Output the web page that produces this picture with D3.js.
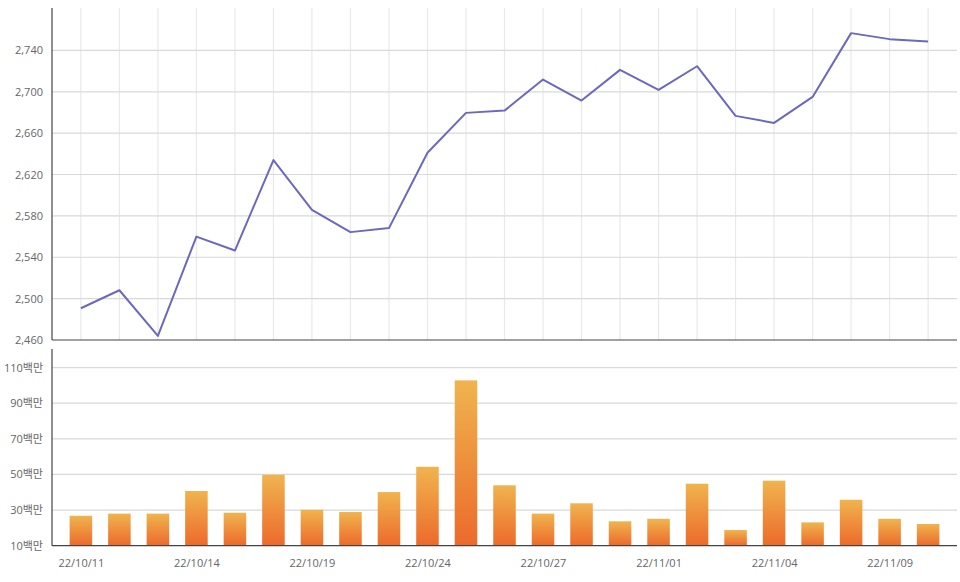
<!DOCTYPE html>
<html><head><meta charset="utf-8">
<script src="https://cdn.jsdelivr.net/npm/d3@7/dist/d3.min.js"></script>
<style>
html,body{margin:0;padding:0;background:#fff;}
text{font-family:"Open Sans","Noto Sans CJK KR",sans-serif;}
</style></head>
<body><svg id="c" width="960" height="582"></svg>
<script>
const dates = ["22/10/11","22/10/12","22/10/13","22/10/14","22/10/17","22/10/18","22/10/19","22/10/20","22/10/21","22/10/24","22/10/25","22/10/26","22/10/27","22/10/28","22/10/31","22/11/01","22/11/02","22/11/03","22/11/04","22/11/07","22/11/08","22/11/09","22/11/10"];
const prices = [2490.7,2508.1,2463.9,2560.0,2546.5,2634.0,2585.9,2564.3,2568.2,2641.1,2679.6,2681.8,2711.8,2691.5,2721.2,2701.8,2724.7,2676.7,2669.9,2695.0,2756.7,2750.9,2748.6];
const volumes = [26.8,28.0,28.0,40.7,28.5,49.8,30.2,28.9,40.1,54.3,102.8,43.9,28.0,33.8,23.7,25.1,44.8,18.8,46.5,23.1,35.8,25.1,22.2]; // 백만
const priceTicks = [2460,2500,2540,2580,2620,2660,2700,2740];
const volumeTicks = [10,30,50,70,90,110];
const labelEvery = 3;

const svg = d3.select("#c");
const L = 52, R = 957;
const top1 = 8, bot1 = 340;
const top2 = 349, bot2 = 545.7;

const x = d3.scalePoint().domain(dates).range([L, R]).padding(0.75);
const step = x.step();

const y1 = d3.scaleLinear().domain([2460, 2781]).range([bot1, top1]);
const y2 = d3.scaleLinear().domain([10, 120.4]).range([bot2, top2]);

// gradient
const defs = svg.append("defs");
const g = defs.append("linearGradient").attr("id","barGrad").attr("x1",0).attr("y1",0).attr("x2",0).attr("y2",1);
g.append("stop").attr("offset","0%").attr("stop-color","#f0b44e");
g.append("stop").attr("offset","100%").attr("stop-color","#ec6a2b");

// top panel grid
const p1 = svg.append("g");
p1.selectAll("line.vg").data(dates).join("line")
  .attr("x1", d=>x(d)).attr("x2", d=>x(d)).attr("y1", top1).attr("y2", bot1)
  .attr("stroke","#e9e9e9").attr("stroke-width",1.2);
p1.selectAll("line.hg").data(priceTicks.filter(t=>t>2460)).join("line")
  .attr("x1", L).attr("x2", R).attr("y1", d=>y1(d)).attr("y2", d=>y1(d))
  .attr("stroke","#d9d9d9").attr("stroke-width",1.2);

const ax1 = svg.append("g").attr("transform",`translate(${L},0)`)
  .call(d3.axisLeft(y1).tickValues(priceTicks).tickSize(0).tickPadding(9).tickFormat(d3.format(",")));
ax1.select(".domain").remove();
ax1.selectAll("text").attr("fill","#666").attr("font-size","11px");

svg.append("line").attr("x1",L).attr("x2",L).attr("y1",top1).attr("y2",bot1).attr("stroke","#444").attr("stroke-width",1.2);
svg.append("line").attr("x1",L).attr("x2",R).attr("y1",bot1).attr("y2",bot1).attr("stroke","#444").attr("stroke-width",1.2);

const line = d3.line().x((d,i)=>x(dates[i])).y(d=>y1(d));
svg.append("path").datum(prices).attr("d",line).attr("fill","none")
  .attr("stroke","#6b68bf").attr("stroke-width",2).attr("stroke-linejoin","round");

// bottom panel
const p2 = svg.append("g");
p2.selectAll("line").data(volumeTicks.filter(t=>t>10)).join("line")
  .attr("x1", L).attr("x2", R).attr("y1", d=>y2(d)).attr("y2", d=>y2(d))
  .attr("stroke","#d9d9d9").attr("stroke-width",1.2);

const bw = step*0.585;
svg.selectAll("rect.bar").data(volumes).join("rect").attr("class","bar")
  .attr("x",(d,i)=>x(dates[i])-bw/2).attr("width",bw)
  .attr("y",d=>y2(d)).attr("height",d=>y2(10)-y2(d))
  .attr("fill","url(#barGrad)");

const ax2 = svg.append("g").attr("transform",`translate(${L},0)`)
  .call(d3.axisLeft(y2).tickValues(volumeTicks).tickSize(0).tickPadding(9).tickFormat(d=>d+"백만"));
ax2.select(".domain").remove();
ax2.selectAll("text").attr("fill","#666").attr("font-size","11px");

svg.append("line").attr("x1",L).attr("x2",L).attr("y1",top2).attr("y2",bot2).attr("stroke","#444").attr("stroke-width",1.2);
svg.append("line").attr("x1",L).attr("x2",R).attr("y1",bot2).attr("y2",bot2).attr("stroke","#444").attr("stroke-width",1.2);

const ax3 = svg.append("g").attr("transform",`translate(0,${bot2})`)
  .call(d3.axisBottom(x).tickValues(dates.filter((d,i)=>i%labelEvery===0)).tickSize(0).tickPadding(14));
ax3.select(".domain").remove();
ax3.selectAll("text").attr("fill","#666").attr("font-size","11px");
</script></body></html>
